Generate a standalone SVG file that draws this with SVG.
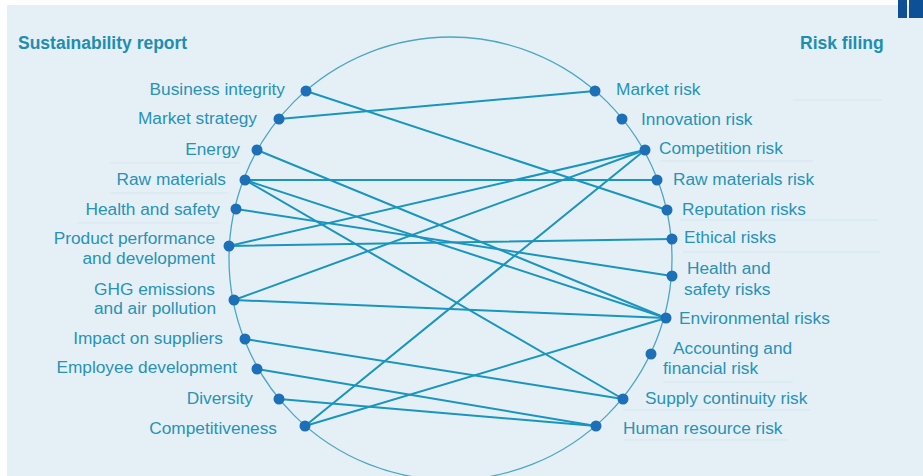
<svg xmlns="http://www.w3.org/2000/svg" width="923" height="476" viewBox="0 0 923 476">
<style>
.bg{fill:#e5f0f6}
.title{font-family:"Liberation Sans",Arial,sans-serif;font-size:17.5px;font-weight:bold;fill:#1f8db2}
.lbl{font-family:"Liberation Sans",Arial,sans-serif;font-size:17.3px;fill:#2992b6}
.l{text-anchor:end}
.dot{fill:#1d70b8}
.ring{fill:none;stroke:#4da6c2;stroke-width:1.3}
.sep{stroke:#d6e5ee;stroke-width:1}
#connectors line{stroke:#1995bf;stroke-width:2;stroke-linecap:round}
</style>
<rect width="923" height="476" fill="#ffffff"/>
<rect class="bg" x="7" y="5" width="916" height="471"/>
<rect x="898" y="0" width="9" height="18" fill="#0d5096"/>
<rect x="909" y="0" width="14" height="18" fill="#0d5096"/>
<g id="separators">
<line class="sep" x1="110" y1="163" x2="240" y2="163"/>
<line class="sep" x1="110" y1="193" x2="228" y2="193"/>
<line class="sep" x1="77" y1="223" x2="220" y2="223"/>
<line class="sep" x1="793" y1="100" x2="882" y2="100"/>
<line class="sep" x1="660" y1="161" x2="813" y2="161"/>
<line class="sep" x1="680" y1="220" x2="878" y2="220"/>
<line class="sep" x1="683" y1="252" x2="880" y2="252"/>
<line class="sep" x1="663" y1="382" x2="793" y2="382"/>
<line class="sep" x1="623" y1="410" x2="810" y2="410"/>
<line class="sep" x1="623" y1="440" x2="787" y2="440"/>
</g>
<text class="title" x="18" y="49">Sustainability report</text>
<text class="title" x="800" y="49">Risk filing</text>
<circle class="ring" cx="450.5" cy="258.5" r="221.5"/>
<g id="connectors">
<line x1="306" y1="91" x2="667" y2="210"/>
<line x1="279" y1="119" x2="595" y2="91"/>
<line x1="257" y1="150" x2="666" y2="318"/>
<line x1="245" y1="180" x2="657" y2="180"/>
<line x1="245" y1="180" x2="666" y2="318"/>
<line x1="245" y1="180" x2="623" y2="399"/>
<line x1="236" y1="209" x2="672" y2="276"/>
<line x1="229" y1="246" x2="672" y2="239"/>
<line x1="229" y1="246" x2="645" y2="150"/>
<line x1="234" y1="300" x2="666" y2="318"/>
<line x1="234" y1="300" x2="645" y2="150"/>
<line x1="245" y1="339" x2="623" y2="399"/>
<line x1="257" y1="369" x2="596" y2="426"/>
<line x1="279" y1="399" x2="596" y2="426"/>
<line x1="305" y1="426" x2="645" y2="150"/>
<line x1="305" y1="426" x2="666" y2="318"/>
</g>
<g id="n-business-integrity"><circle class="dot" cx="306" cy="91" r="5.5"/><text class="lbl l" x="285" y="95">Business integrity</text></g>
<g id="n-market-strategy"><circle class="dot" cx="279" cy="119" r="5.5"/><text class="lbl l" x="257" y="124">Market strategy</text></g>
<g id="n-energy"><circle class="dot" cx="257" cy="150" r="5.5"/><text class="lbl l" x="240" y="155">Energy</text></g>
<g id="n-raw-materials"><circle class="dot" cx="245" cy="180" r="5.5"/><text class="lbl l" x="226" y="185">Raw materials</text></g>
<g id="n-health-safety"><circle class="dot" cx="236" cy="209" r="5.5"/><text class="lbl l" x="220" y="215">Health and safety</text></g>
<g id="n-product-performance"><circle class="dot" cx="229" cy="246" r="5.5"/><text class="lbl l" x="215" y="244">Product performance</text><text class="lbl l" x="215" y="264">and development</text></g>
<g id="n-ghg"><circle class="dot" cx="234" cy="300" r="5.5"/><text class="lbl l" x="215" y="295">GHG emissions</text><text class="lbl l" x="216" y="314">and air pollution</text></g>
<g id="n-impact-suppliers"><circle class="dot" cx="245" cy="339" r="5.5"/><text class="lbl l" x="223" y="344">Impact on suppliers</text></g>
<g id="n-employee-development"><circle class="dot" cx="257" cy="369" r="5.5"/><text class="lbl l" x="237" y="373">Employee development</text></g>
<g id="n-diversity"><circle class="dot" cx="279" cy="399" r="5.5"/><text class="lbl l" x="253" y="404">Diversity</text></g>
<g id="n-competitiveness"><circle class="dot" cx="305" cy="426" r="5.5"/><text class="lbl l" x="277" y="434">Competitiveness</text></g>
<g id="r-market-risk"><circle class="dot" cx="595" cy="91" r="5.5"/><text class="lbl" x="616" y="95">Market risk</text></g>
<g id="r-innovation-risk"><circle class="dot" cx="622" cy="119" r="5.5"/><text class="lbl" x="641" y="125">Innovation risk</text></g>
<g id="r-competition-risk"><circle class="dot" cx="645" cy="150" r="5.5"/><text class="lbl" x="659" y="154">Competition risk</text></g>
<g id="r-raw-materials-risk"><circle class="dot" cx="657" cy="180" r="5.5"/><text class="lbl" x="673" y="185">Raw materials risk</text></g>
<g id="r-reputation-risks"><circle class="dot" cx="667" cy="210" r="5.5"/><text class="lbl" x="682" y="215">Reputation risks</text></g>
<g id="r-ethical-risks"><circle class="dot" cx="672" cy="239" r="5.5"/><text class="lbl" x="684" y="243">Ethical risks</text></g>
<g id="r-health-safety-risks"><circle class="dot" cx="672" cy="276" r="5.5"/><text class="lbl" x="687" y="274">Health and</text><text class="lbl" x="684" y="295">safety risks</text></g>
<g id="r-environmental-risks"><circle class="dot" cx="666" cy="318" r="5.5"/><text class="lbl" x="679" y="324">Environmental risks</text></g>
<g id="r-accounting"><circle class="dot" cx="651" cy="354" r="5.5"/><text class="lbl" x="673" y="354">Accounting and</text><text class="lbl" x="663" y="374">financial risk</text></g>
<g id="r-supply-continuity"><circle class="dot" cx="623" cy="399" r="5.5"/><text class="lbl" x="645" y="404">Supply continuity risk</text></g>
<g id="r-human-resource"><circle class="dot" cx="596" cy="426" r="5.5"/><text class="lbl" x="623" y="434">Human resource risk</text></g>
</svg>
